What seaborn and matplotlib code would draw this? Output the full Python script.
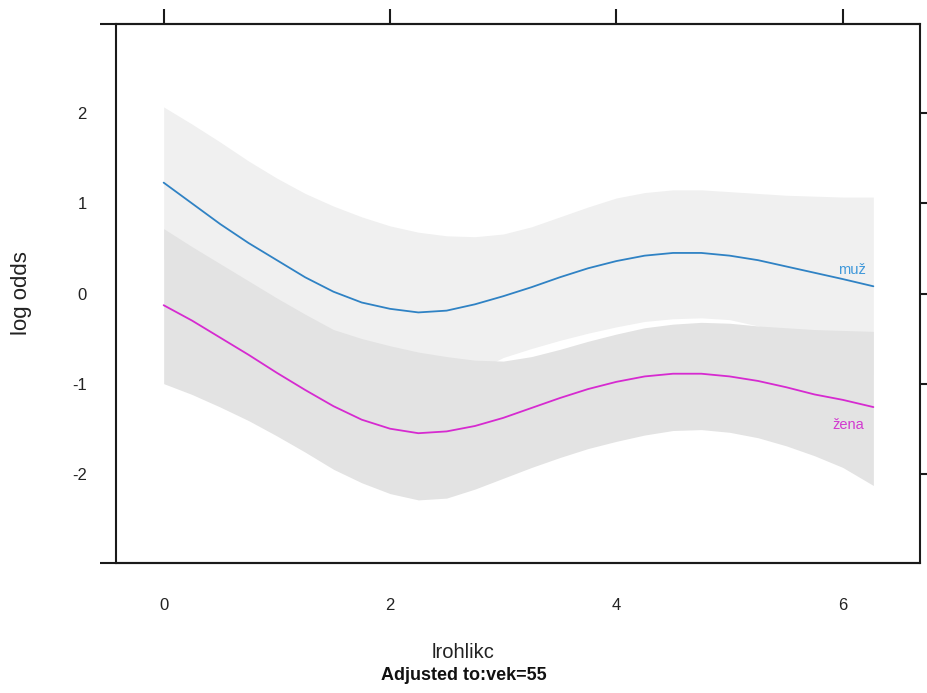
import matplotlib
matplotlib.use("Agg")
import matplotlib.pyplot as plt
import numpy as np
import pandas as pd
import seaborn as sns

# Predicted log odds by lrohlikc for each sex (vek fixed at 55)
curve_x = [0.0, 0.25, 0.5, 0.75, 1.0, 1.25, 1.5, 1.75, 2.0, 2.25, 2.5, 2.75, 3.0,
           3.25, 3.5, 3.75, 4.0, 4.25, 4.5, 4.75, 5.0, 5.25, 5.5, 5.75, 6.0, 6.27]
muz_fit = [1.23, 1.00, 0.77, 0.56, 0.37, 0.18, 0.02, -0.10, -0.17, -0.21, -0.19, -0.12, -0.03,
           0.07, 0.18, 0.28, 0.36, 0.42, 0.45, 0.45, 0.42, 0.37, 0.30, 0.23, 0.16, 0.08]
zena_fit = [-0.13, -0.30, -0.49, -0.68, -0.88, -1.07, -1.25, -1.40, -1.50, -1.55, -1.53, -1.47, -1.38,
            -1.27, -1.16, -1.06, -0.98, -0.92, -0.89, -0.89, -0.92, -0.97, -1.04, -1.12, -1.18, -1.26]

# Confidence limits at the same lrohlikc values
muz_lower = [0.39, 0.12, -0.14, -0.36, -0.54, -0.75, -0.93, -1.05, -1.09, -1.09, -1.02, -0.87, -0.71,
             -0.61, -0.52, -0.44, -0.37, -0.31, -0.28, -0.27, -0.29, -0.36, -0.46, -0.58, -0.72, -0.90]
muz_upper = [2.07, 1.88, 1.68, 1.47, 1.28, 1.11, 0.97, 0.85, 0.75, 0.68, 0.64, 0.63, 0.66,
             0.74, 0.85, 0.96, 1.06, 1.12, 1.15, 1.15, 1.13, 1.11, 1.09, 1.08, 1.07, 1.07]
zena_lower = [-1.00, -1.12, -1.26, -1.41, -1.58, -1.76, -1.95, -2.10, -2.22, -2.29, -2.27, -2.17, -2.05,
              -1.93, -1.82, -1.72, -1.64, -1.57, -1.52, -1.51, -1.54, -1.60, -1.69, -1.80, -1.93, -2.13]
zena_upper = [0.72, 0.52, 0.33, 0.14, -0.05, -0.23, -0.40, -0.50, -0.58, -0.65, -0.70, -0.74, -0.75,
              -0.70, -0.62, -0.53, -0.45, -0.38, -0.34, -0.32, -0.33, -0.36, -0.38, -0.40, -0.41, -0.42]

sex_levels = ["muž", "žena"]
x_ticks = [0, 2, 4, 6]
y_ticks = [-2, -1, 0, 1, 2]

sns.set_style("white")
plt.rcParams["font.family"] = ["Liberation Sans", "DejaVu Sans"]

df = pd.DataFrame({
    "lrohlikc": curve_x * 2,
    "log_odds": muz_fit + zena_fit,
    "pohlavi": [sex_levels[0]] * len(curve_x) + [sex_levels[1]] * len(curve_x),
})

line_colors = {"muž": "#2f82c4", "žena": "#d62ad0"}
label_colors = {"muž": "#3f98da", "žena": "#d23ad0"}

W, H = 927, 693
fig = plt.figure(figsize=(W / 100, H / 100), dpi=100)
left, right, top, bottom = 116, 920, 24, 563
ax = fig.add_axes([left / W, 1 - bottom / H, (right - left) / W, (bottom - top) / H])

# confidence bands (žena drawn over muž)
ax.fill_between(curve_x, muz_lower, muz_upper, color="#f0f0f0", lw=0, zorder=1)
ax.fill_between(curve_x, zena_lower, zena_upper, color="#e3e3e3", lw=0, zorder=2)

sns.lineplot(data=df, x="lrohlikc", y="log_odds", hue="pohlavi", hue_order=sex_levels,
             palette=line_colors, linewidth=1.3, legend=False, errorbar=None,
             sort=False, ax=ax, zorder=3)

# curve labels at the right end
ax.text(5.96, 0.26, "muž", color=label_colors["muž"], fontsize=10.5, va="center", ha="left", zorder=4)
ax.text(5.91, -1.46, "žena", color=label_colors["žena"], fontsize=10.5, va="center", ha="left", zorder=4)

ax.set_xlim(-0.421, 6.682)
ax.set_ylim(-2.99, 2.99)
ax.set_xticks(x_ticks)
ax.set_yticks(y_ticks)
ax.set_xticklabels([str(v) for v in x_ticks])
ax.set_yticklabels([str(v) for v in y_ticks])
ax.set_xlabel("")
ax.set_ylabel("")

axis_col = "#1a1a1a"
for s in ax.spines.values():
    s.set_visible(True)
    s.set_color(axis_col)
    s.set_linewidth(1.5)

ax.tick_params(axis="both", direction="out", length=11, width=1.5, color=axis_col,
               labelsize=12, labelcolor="#222222", top=True, right=True,
               labeltop=False, labelright=False)
ax.tick_params(axis="x", pad=14)
ax.tick_params(axis="y", pad=10)

# top and bottom box lines reach a little past the left edge
ext = -16 / (right - left)
for yy in (0, 1):
    ax.plot([ext, 1], [yy, yy], transform=ax.transAxes, color=axis_col, lw=1.5,
            clip_on=False, solid_capstyle="butt", zorder=5)

fig.text(0.5, 1 - 652 / H, "lrohlikc", ha="center", va="center", fontsize=14.5, color="#222222")
fig.text(0.5, 1 - 675 / H, "Adjusted to:vek=55", ha="center", va="center", fontsize=13,
         fontweight="bold", color="#111111",
         family=["Liberation Sans Narrow", "Liberation Sans", "DejaVu Sans"])
fig.text(22 / W, 1 - 293 / H, "log odds", rotation=90, ha="center", va="center",
         fontsize=16, color="#222222")

fig.savefig("out.png", dpi=100, facecolor="white")
